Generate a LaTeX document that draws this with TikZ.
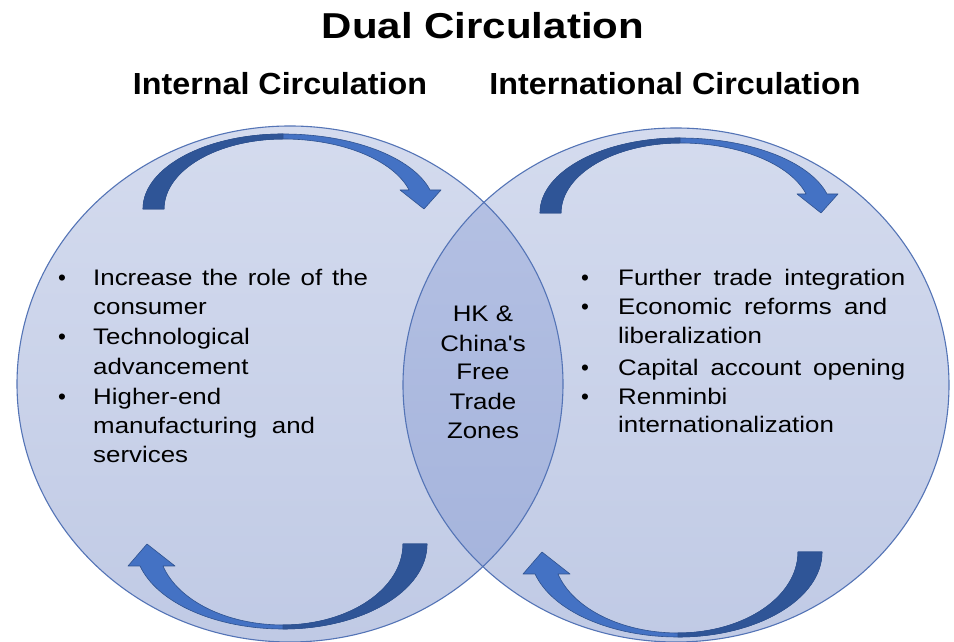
\documentclass[tikz,border=0pt]{standalone}
\usepackage{fontspec}
\setmainfont{Liberation Sans}[Ligatures=TeXOff]
\usepackage{graphicx}
\definecolor{cT}{RGB}{212,219,238}
\definecolor{cB}{RGB}{192,202,229}
\definecolor{lT}{RGB}{182,194,228}
\definecolor{lB}{RGB}{163,178,219}
\definecolor{cEdge}{RGB}{84,116,182}
\definecolor{arrL}{RGB}{68,114,196}
\definecolor{arrD}{RGB}{47,85,151}
\definecolor{arrE}{RGB}{47,82,143}
\tikzset{
  bodytxt/.style={anchor=base west, inner sep=0pt, font=\fontsize{22.5}{29.5}\selectfont},
  bulletmark/.style={anchor=base, inner sep=0pt, font=\fontsize{22.5}{29.5}\selectfont},
  lenstxt/.style={anchor=base, inner sep=0pt, font=\fontsize{22.5}{29.5}\selectfont},
  headtxt/.style={anchor=base, inner sep=0pt, font=\fontsize{30.5}{34}\selectfont\bfseries},
  titletxt/.style={anchor=base, inner sep=0pt, font=\fontsize{36}{40}\selectfont\bfseries},
  arrlight/.style={fill=arrL, draw=arrE, line width=0.6pt, line join=round},
  arrdark/.style={fill=arrD, draw=arrE, line width=0.6pt, line join=round},
  ringedge/.style={draw=cEdge, line width=1.1pt},
}
\newcommand\wx[1]{\scalebox{1.15}[1]{#1}}
\newcommand\wxs[2]{\scalebox{1.15}[1]{\makebox[#1pt][s]{#2}}}
\newcommand\toparrow[2]{%
  \begin{scope}[shift={(#1,#2)}]
    \path[arrlight] (-140,0)
      arc[start angle=180,end angle=90,x radius=140,y radius=75]
      arc[start angle=90,end angle=14.67,x radius=152,y radius=75]
      -- (158,19) -- (141,0) -- (117,19) -- (126.1,19)
      arc[start angle=15.75,end angle=90,x radius=131,y radius=70]
      arc[start angle=90,end angle=180,x radius=119,y radius=70] -- cycle;
    \path[arrdark] (-140,0)
      arc[start angle=180,end angle=90,x radius=140,y radius=75]
      -- (0,70)
      arc[start angle=90,end angle=180,x radius=119,y radius=70] -- cycle;
  \end{scope}}
\newcommand\botarrow[2]{%
  \begin{scope}[shift={(#1,#2)}]
    \path[arrlight] (144,0)
      arc[start angle=0,end angle=-90,x radius=144,y radius=85]
      arc[start angle=-90,end angle=-165,x radius=148,y radius=85]
      -- (-155,-22) -- (-136,0) -- (-108,-22) -- (-120,-22)
      arc[start angle=-164.24,end angle=-90,x radius=124.7,y radius=81]
      arc[start angle=-90,end angle=0,x radius=120,y radius=81] -- cycle;
    \path[arrdark] (144,0)
      arc[start angle=0,end angle=-90,x radius=144,y radius=85]
      -- (0,-81)
      arc[start angle=-90,end angle=0,x radius=120,y radius=81] -- cycle;
  \end{scope}}
\begin{document}
\begin{tikzpicture}[x=1pt,y=1pt]
\useasboundingbox (0,0) rectangle (954,642);
\fill[white] (0,0) rectangle (954,642);
% circles
\shade[top color=cT, bottom color=cB] (290,258) ellipse [x radius=273, y radius=258];
\shade[top color=cT, bottom color=cB] (676,257) ellipse [x radius=273, y radius=257];
\begin{scope}
  \clip (290,258) ellipse [x radius=273, y radius=258];
  \shade[top color=lT, bottom color=lB] (676,257) ellipse [x radius=273, y radius=257];
\end{scope}
\path[ringedge] (290,258) ellipse [x radius=273, y radius=258];
\path[ringedge] (676,257) ellipse [x radius=273, y radius=257];
% arrows
\toparrow{283}{433}
\toparrow{680}{429}
\botarrow{283}{98}
\botarrow{678}{90}
% titles
\node[titletxt] (title) at (483,603) {\scalebox{1.167}[1]{Dual Circulation}};
\node[headtxt] (hInt) at (280,547) {\scalebox{1.058}[1]{Internal Circulation}};
\node[headtxt] (hExt) at (675,547) {\scalebox{1.058}[1]{International Circulation}};
% left list
\node[bulletmark] (lb1) at (62,356) {•};
\node[bodytxt] (l1a) at (93,356) {\wxs{239}{Increase the role of the}};
\node[bodytxt] (l1b) at (93,327) {\wx{consumer}};
\node[bulletmark] (lb2) at (62,297) {•};
\node[bodytxt] (l2a) at (93,297) {\wx{Technological}};
\node[bodytxt] (l2b) at (93,267) {\wx{advancement}};
\node[bulletmark] (lb3) at (62,237) {•};
\node[bodytxt] (l3a) at (93,237) {\wx{Higher-end}};
\node[bodytxt] (l3b) at (93,208) {\wxs{193}{manufacturing and}};
\node[bodytxt] (l3c) at (93,179) {\wx{services}};
% lens
\node[lenstxt] (z1) at (483,320) {\wx{HK \&}};
\node[lenstxt] (z2) at (483,290) {\wx{China's}};
\node[lenstxt] (z3) at (483,262) {\wx{Free}};
\node[lenstxt] (z4) at (483,232) {\wx{Trade}};
\node[lenstxt] (z5) at (483,203) {\wx{Zones}};
% right list
\node[bulletmark] (rb1) at (585,356) {•};
\node[bodytxt] (r1) at (618,356) {\wxs{249.6}{Further trade integration}};
\node[bulletmark] (rb2) at (585,327) {•};
\node[bodytxt] (r2a) at (618,327) {\wxs{234}{Economic reforms and}};
\node[bodytxt] (r2b) at (618,298) {\wx{liberalization}};
\node[bulletmark] (rb3) at (585,266) {•};
\node[bodytxt] (r3) at (618,266) {\wxs{249.6}{Capital account opening}};
\node[bulletmark] (rb4) at (585,237) {•};
\node[bodytxt] (r4a) at (618,237) {\wx{Renminbi}};
\node[bodytxt] (r4b) at (618,209) {\wx{internationalization}};
\end{tikzpicture}
\end{document}
